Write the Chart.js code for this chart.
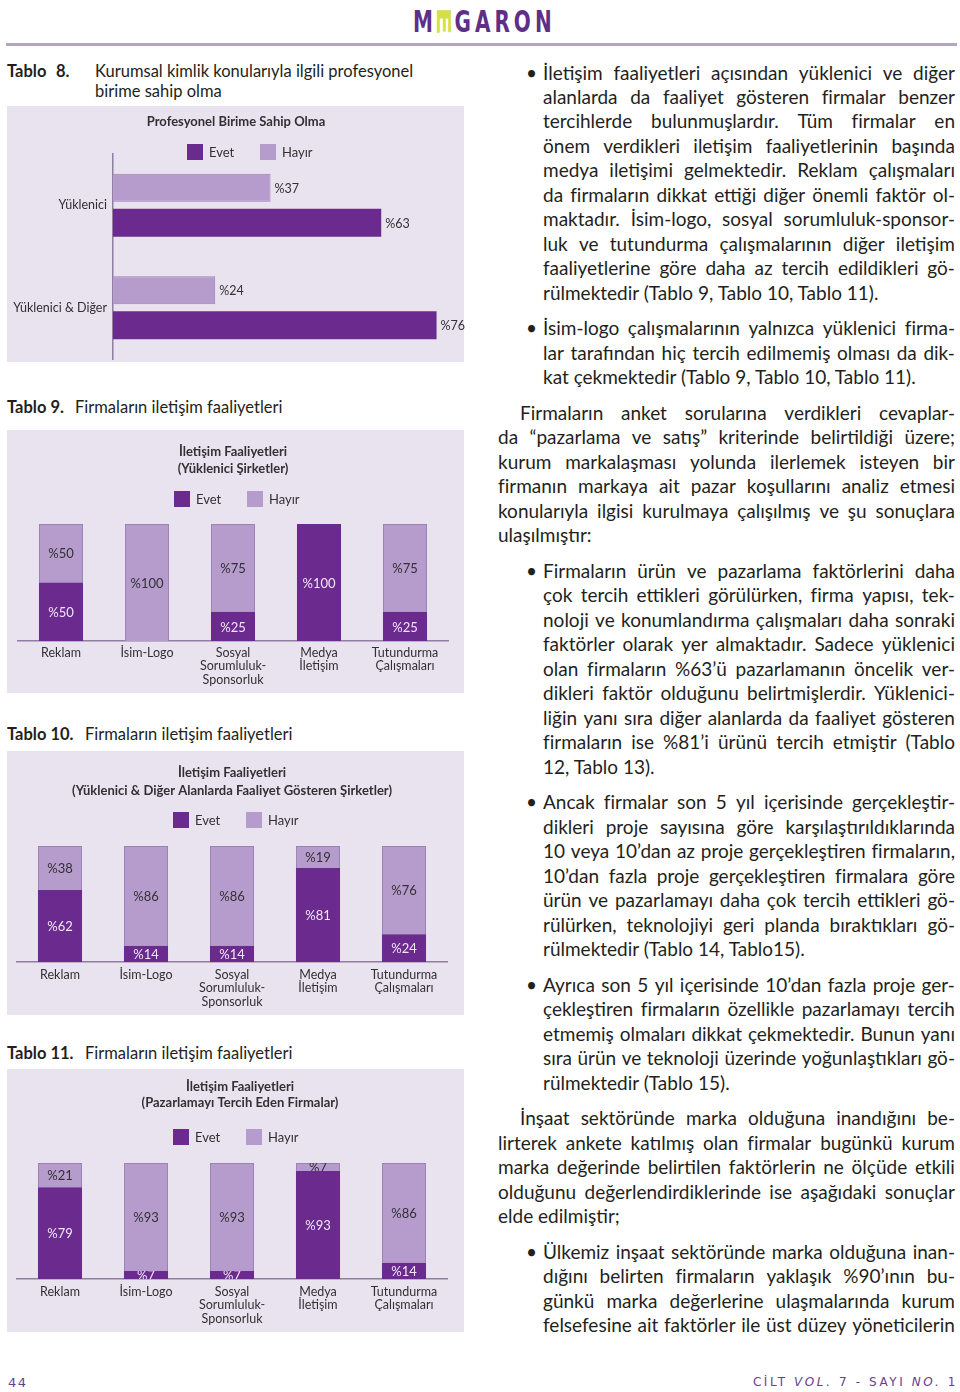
<!DOCTYPE html>
<html lang="tr">
<head>
<meta charset="utf-8">
<title>Tablo 8–11 · Megaron</title>
<script src="https://cdn.jsdelivr.net/npm/chart.js@4.4.1/dist/chart.umd.min.js"></script>
<style>
html,body{margin:0;padding:0;background:#fff;}
body{width:960px;height:1392px;position:relative;overflow:hidden;font-family:Lato,'Open Sans',sans-serif;color:#231f20;}
.logo{position:absolute;left:413px;top:3px;font-family:'DejaVu Sans',sans-serif;font-weight:bold;font-size:20px;line-height:normal;letter-spacing:4px;color:#5e2f86;white-space:nowrap;transform:scaleY(1.5);transform-origin:0 0;}
.logo .e{display:inline-block;letter-spacing:0;margin-right:4px;transform:rotate(90deg) scaleX(1.45);color:#d4df4c;}
.rule{position:absolute;left:6px;top:43px;width:951px;height:3px;background:#b3a6c1;}
.ttl{position:absolute;font-size:16.5px;line-height:20px;white-space:nowrap;color:#231f20;}
.ttl b{font-weight:bold;}
.panel{position:absolute;left:7px;width:457px;background:#e9e2ef;}
.panel canvas{display:block;}
#text{position:absolute;left:498px;top:60.5px;width:457px;font-size:19px;line-height:24.45px;color:#231f20;}
.blk{position:relative;margin-bottom:11.3px;}
.blk.bul{padding-left:45px;}
.blk.bul .dot{position:absolute;left:28px;top:0;}
.ln{white-space:nowrap;}
.ln.j{display:flex;justify-content:space-between;}
.ln.ind{padding-left:22px;}
.foot{position:absolute;top:1375px;font-family:'DejaVu Sans',sans-serif;font-size:12px;color:#6b3d8e;letter-spacing:2.6px;white-space:nowrap;}
.foot i{font-style:italic;}
</style>
</head>
<body>
<div class="logo">M<span class="e">E</span>GARON</div>
<div class="rule"></div>

<div class="ttl" style="left:7px;top:61px;"><b>Tablo</b></div>
<div class="ttl" style="left:56px;top:61px;"><b>8.</b></div>
<div class="ttl" style="left:95px;top:61px;">Kurumsal kimlik konularıyla ilgili profesyonel<br>birime sahip olma</div>
<div class="panel" style="top:106px;height:256px;"><canvas id="c8" width="460" height="256"></canvas></div>

<div class="ttl" style="left:7px;top:397px;"><b>Tablo 9.</b></div>
<div class="ttl" style="left:75px;top:397px;">Firmaların iletişim faaliyetleri</div>
<div class="panel" style="top:430px;height:263px;"><canvas id="c9" width="457" height="263"></canvas></div>

<div class="ttl" style="left:7px;top:724px;"><b>Tablo 10.</b></div>
<div class="ttl" style="left:85px;top:724px;">Firmaların iletişim faaliyetleri</div>
<div class="panel" style="top:751px;height:264px;"><canvas id="c10" width="457" height="264"></canvas></div>

<div class="ttl" style="left:7px;top:1043px;"><b>Tablo 11.</b></div>
<div class="ttl" style="left:85px;top:1043px;">Firmaların iletişim faaliyetleri</div>
<div class="panel" style="top:1069px;height:263px;"><canvas id="c11" width="457" height="263"></canvas></div>

<div id="text"></div>

<div class="foot" style="left:8px;font-size:13px;letter-spacing:1.5px;">44</div>
<div class="foot" style="right:2px;">CİLT <i>VOL.</i> 7 - SAYI <i>NO.</i> 1</div>

<script>
// ---------- data ----------
const seriesNames = ['Evet', 'Hayır'];

const tablo8Categories = ['Yüklenici', 'Yüklenici & Diğer'];
const tablo8Evet = [63, 76];
const tablo8Hayir = [37, 24];

const activityCategories = [
  ['Reklam'],
  ['İsim-Logo'],
  ['Sosyal', 'Sorumluluk-', 'Sponsorluk'],
  ['Medya', 'İletişim'],
  ['Tutundurma', 'Çalışmaları']
];
const tablo9Evet = [50, 0, 25, 100, 25];
const tablo9Hayir = [50, 100, 75, 0, 75];
const tablo10Evet = [62, 14, 14, 81, 24];
const tablo10Hayir = [38, 86, 86, 19, 76];
const tablo11Evet = [79, 7, 7, 93, 14];
const tablo11Hayir = [21, 93, 93, 7, 86];

// ---------- styles ----------
const DARK = '#6b2b8e', LIGHT = '#b59ccc', LIGHT_EDGE = '#9c80b7', AXIS = '#8f7fa0', INK = '#333033', ON_DARK = '#f1e7f7';
Chart.defaults.font.family = "Lato, 'Open Sans', sans-serif";
Chart.defaults.color = INK;

// title + square legend drawn onto the canvas
const panelHeader = {
  id: 'panelHeader',
  afterDraw(chart, args, o) {
    const ctx = chart.ctx;
    ctx.save();
    ctx.fillStyle = INK;
    ctx.textAlign = 'center';
    ctx.textBaseline = 'middle';
    ctx.font = "bold 13px Lato, 'Open Sans', sans-serif";
    o.title.forEach((t, i) => ctx.fillText(t, o.titleX, o.titleY + i * o.titleGap));
    ctx.font = "13px Lato, 'Open Sans', sans-serif";
    ctx.textAlign = 'left';
    o.order.forEach((di, k) => {
      const ds = chart.data.datasets[di];
      const x = o.legendX + k * 73;
      ctx.fillStyle = ds.backgroundColor;
      ctx.fillRect(x, o.legendY, 16, 16);
      ctx.fillStyle = INK;
      ctx.fillText(ds.label, x + 22, o.legendY + 8.5);
    });
    ctx.restore();
  }
};

// "%NN" value labels
const valueLabels = {
  id: 'valueLabels',
  afterDatasetsDraw(chart, args, o) {
    const ctx = chart.ctx;
    chart.data.datasets.forEach((ds, di) => {
      const meta = chart.getDatasetMeta(di);
      meta.data.forEach((bar, i) => {
        const v = ds.data[i];
        if (!v) return;
        const p = bar.getProps(['x', 'y', 'base', 'width', 'height'], true);
        const text = '%' + v;
        ctx.save();
        ctx.font = (o.size || 13) + "px Lato, 'Open Sans', sans-serif";
        ctx.fillStyle = ds.labelColor;
        ctx.textBaseline = 'middle';
        if (o.mode === 'outside') {
          ctx.textAlign = 'left';
          ctx.fillText(text, p.x + o.gap, p.y + 1);
        } else {
          ctx.beginPath();
          ctx.rect(p.x - p.width / 2, Math.min(p.y, p.base), p.width, Math.abs(p.base - p.y));
          ctx.clip();
          ctx.textAlign = 'center';
          ctx.fillText(text, p.x, (p.y + p.base) / 2 + 1);
        }
        ctx.restore();
      });
    });
  }
};

// ---------- Tablo 8 ----------
new Chart(document.getElementById('c8'), {
  type: 'bar',
  data: {
    labels: tablo8Categories,
    datasets: [
      { label: seriesNames[1], data: tablo8Hayir, backgroundColor: LIGHT, borderColor: LIGHT_EDGE, borderWidth: 1,
        labelColor: INK, categoryPercentage: 0.683, barPercentage: 0.8 },
      { label: seriesNames[0], data: tablo8Evet, backgroundColor: DARK, borderWidth: 0,
        labelColor: INK, categoryPercentage: 0.683, barPercentage: 0.8 }
    ]
  },
  options: {
    indexAxis: 'y',
    responsive: false,
    animation: false,
    layout: { padding: { top: 48, left: 0, right: 13.4, bottom: 3 } },
    scales: {
      x: { display: false, min: 0, max: 80 },
      y: {
        grid: { display: false, drawTicks: false },
        border: { display: true, color: AXIS, width: 1.5 },
        ticks: { font: { size: 12.5 }, color: INK, padding: 6 },
        afterFit: s => { s.width = 106; s.paddingTop = 0; s.paddingBottom = 0; }
      }
    },
    plugins: {
      legend: { display: false },
      tooltip: { enabled: false },
      panelHeader: { title: ['Profesyonel Birime Sahip Olma'], titleX: 229, titleY: 16, titleGap: 17, legendX: 180, legendY: 38, order: [1, 0] },
      valueLabels: { mode: 'outside', gap: 4, size: 12.5 }
    }
  },
  plugins: [panelHeader, valueLabels]
});

// ---------- Tablo 9 / 10 / 11 ----------
function activityChart(id, evet, hayir, header, geom) {
  return new Chart(document.getElementById(id), {
    type: 'bar',
    data: {
      labels: activityCategories,
      datasets: [
        { label: seriesNames[0], data: evet, backgroundColor: DARK, borderWidth: 0, labelColor: ON_DARK,
          barPercentage: 0.512, categoryPercentage: 1 },
        { label: seriesNames[1], data: hayir, backgroundColor: LIGHT, borderColor: LIGHT_EDGE, borderWidth: 1, labelColor: INK,
          barPercentage: 0.512, categoryPercentage: 1 }
      ]
    },
    options: {
      responsive: false,
      animation: false,
      layout: { padding: geom.padding },
      scales: {
        x: {
          stacked: true,
          grid: { display: false, drawTicks: false },
          border: { display: true, color: AXIS, width: 1.5 },
          ticks: { font: { size: 12.5, lineHeight: 1.08 }, color: INK, padding: geom.tickPad, maxRotation: 0, autoSkip: false },
          afterFit: s => { s.height = geom.axisH; }
        },
        y: { stacked: true, display: false, min: 0, max: 100 }
      },
      plugins: {
        legend: { display: false },
        tooltip: { enabled: false },
        panelHeader: header,
        valueLabels: { mode: 'inside' }
      }
    },
    plugins: [panelHeader, valueLabels]
  });
}

activityChart('c9', tablo9Evet, tablo9Hayir,
  { title: ['İletişim Faaliyetleri', '(Yüklenici Şirketler)'], titleX: 226, titleY: 22, titleGap: 17, legendX: 167, legendY: 61, order: [0, 1] },
  { padding: { top: 94, left: 11, right: 16, bottom: 0 }, tickPad: 5, axisH: 52 });

activityChart('c10', tablo10Evet, tablo10Hayir,
  { title: ['İletişim Faaliyetleri', '(Yüklenici & Diğer Alanlarda Faaliyet Gösteren Şirketler)'], titleX: 225, titleY: 22, titleGap: 18, legendX: 166, legendY: 61, order: [0, 1] },
  { padding: { top: 95, left: 10, right: 17, bottom: 0 }, tickPad: 6, axisH: 53 });

activityChart('c11', tablo11Evet, tablo11Hayir,
  { title: ['İletişim Faaliyetleri', '(Pazarlamayı Tercih Eden Firmalar)'], titleX: 233, titleY: 18, titleGap: 16, legendX: 166, legendY: 60, order: [0, 1] },
  { padding: { top: 94, left: 10, right: 17, bottom: 0 }, tickPad: 6, axisH: 53 });

// ---------- right column text ----------
const rightText = [
  { kind: 'bullet', lines: [
    'İletişim faaliyetleri açısından yüklenici ve diğer',
    'alanlarda da faaliyet gösteren firmalar benzer',
    'tercihlerde bulunmuşlardır. Tüm firmalar en',
    'önem verdikleri iletişim faaliyetlerinin başında',
    'medya iletişimi gelmektedir. Reklam çalışmaları',
    'da firmaların dikkat ettiği diğer önemli faktör ol-',
    'maktadır. İsim-logo, sosyal sorumluluk-sponsor-',
    'luk ve tutundurma çalışmalarının diğer iletişim',
    'faaliyetlerine göre daha az tercih edildikleri gö-',
    'rülmektedir (Tablo 9, Tablo 10, Tablo 11).'] },
  { kind: 'bullet', lines: [
    'İsim-logo çalışmalarının yalnızca yüklenici firma-',
    'lar tarafından hiç tercih edilmemiş olması da dik-',
    'kat çekmektedir (Tablo 9, Tablo 10, Tablo 11).'] },
  { kind: 'para', lines: [
    'Firmaların anket sorularına verdikleri cevaplar-',
    'da “pazarlama ve satış” kriterinde belirtildiği üzere;',
    'kurum markalaşması yolunda ilerlemek isteyen bir',
    'firmanın markaya ait pazar koşullarını analiz etmesi',
    'konularıyla ilgisi kurulmaya çalışılmış ve şu sonuçlara',
    'ulaşılmıştır:'] },
  { kind: 'bullet', lines: [
    'Firmaların ürün ve pazarlama faktörlerini daha',
    'çok tercih ettikleri görülürken, firma yapısı, tek-',
    'noloji ve konumlandırma çalışmaları daha sonraki',
    'faktörler olarak yer almaktadır. Sadece yüklenici',
    'olan firmaların %63’ü pazarlamanın öncelik ver-',
    'dikleri faktör olduğunu belirtmişlerdir. Yüklenici-',
    'liğin yanı sıra diğer alanlarda da faaliyet gösteren',
    'firmaların ise %81’i ürünü tercih etmiştir (Tablo',
    '12, Tablo 13).'] },
  { kind: 'bullet', lines: [
    'Ancak firmalar son 5 yıl içerisinde gerçekleştir-',
    'dikleri proje sayısına göre karşılaştırıldıklarında',
    '10 veya 10’dan az proje gerçekleştiren firmaların,',
    '10’dan fazla proje gerçekleştiren firmalara göre',
    'ürün ve pazarlamayı daha çok tercih ettikleri gö-',
    'rülürken, teknolojiyi geri planda bıraktıkları gö-',
    'rülmektedir (Tablo 14, Tablo15).'] },
  { kind: 'bullet', lines: [
    'Ayrıca son 5 yıl içerisinde 10’dan fazla proje ger-',
    'çekleştiren firmaların özellikle pazarlamayı tercih',
    'etmemiş olmaları dikkat çekmektedir. Bunun yanı',
    'sıra ürün ve teknoloji üzerinde yoğunlaştıkları gö-',
    'rülmektedir (Tablo 15).'] },
  { kind: 'para', lines: [
    'İnşaat sektöründe marka olduğuna inandığını be-',
    'lirterek ankete katılmış olan firmalar bugünkü kurum',
    'marka değerinde belirtilen faktörlerin ne ölçüde etkili',
    'olduğunu değerlendirdiklerinde ise aşağıdaki sonuçlar',
    'elde edilmiştir;'] },
  { kind: 'bullet', cont: true, lines: [
    'Ülkemiz inşaat sektöründe marka olduğuna inan-',
    'dığını belirten firmaların yaklaşık %90’ının bu-',
    'günkü marka değerlerine ulaşmalarında kurum',
    'felsefesine ait faktörler ile üst düzey yöneticilerin'] }
];

const host = document.getElementById('text');
rightText.forEach(b => {
  const d = document.createElement('div');
  d.className = 'blk' + (b.kind === 'bullet' ? ' bul' : '');
  if (b.kind === 'bullet') {
    const dot = document.createElement('span');
    dot.className = 'dot';
    dot.textContent = '•';
    d.appendChild(dot);
  }
  b.lines.forEach((t, i) => {
    const l = document.createElement('div');
    const last = i === b.lines.length - 1 && !b.cont;
    l.className = 'ln' + (last ? '' : ' j') + (b.kind === 'para' && i === 0 ? ' ind' : '');
    if (last) {
      l.textContent = t;
    } else {
      t.split(' ').forEach(w => {
        const s = document.createElement('span');
        s.textContent = w;
        l.appendChild(s);
      });
    }
    d.appendChild(l);
  });
  host.appendChild(d);
});
</script>
</body>
</html>
